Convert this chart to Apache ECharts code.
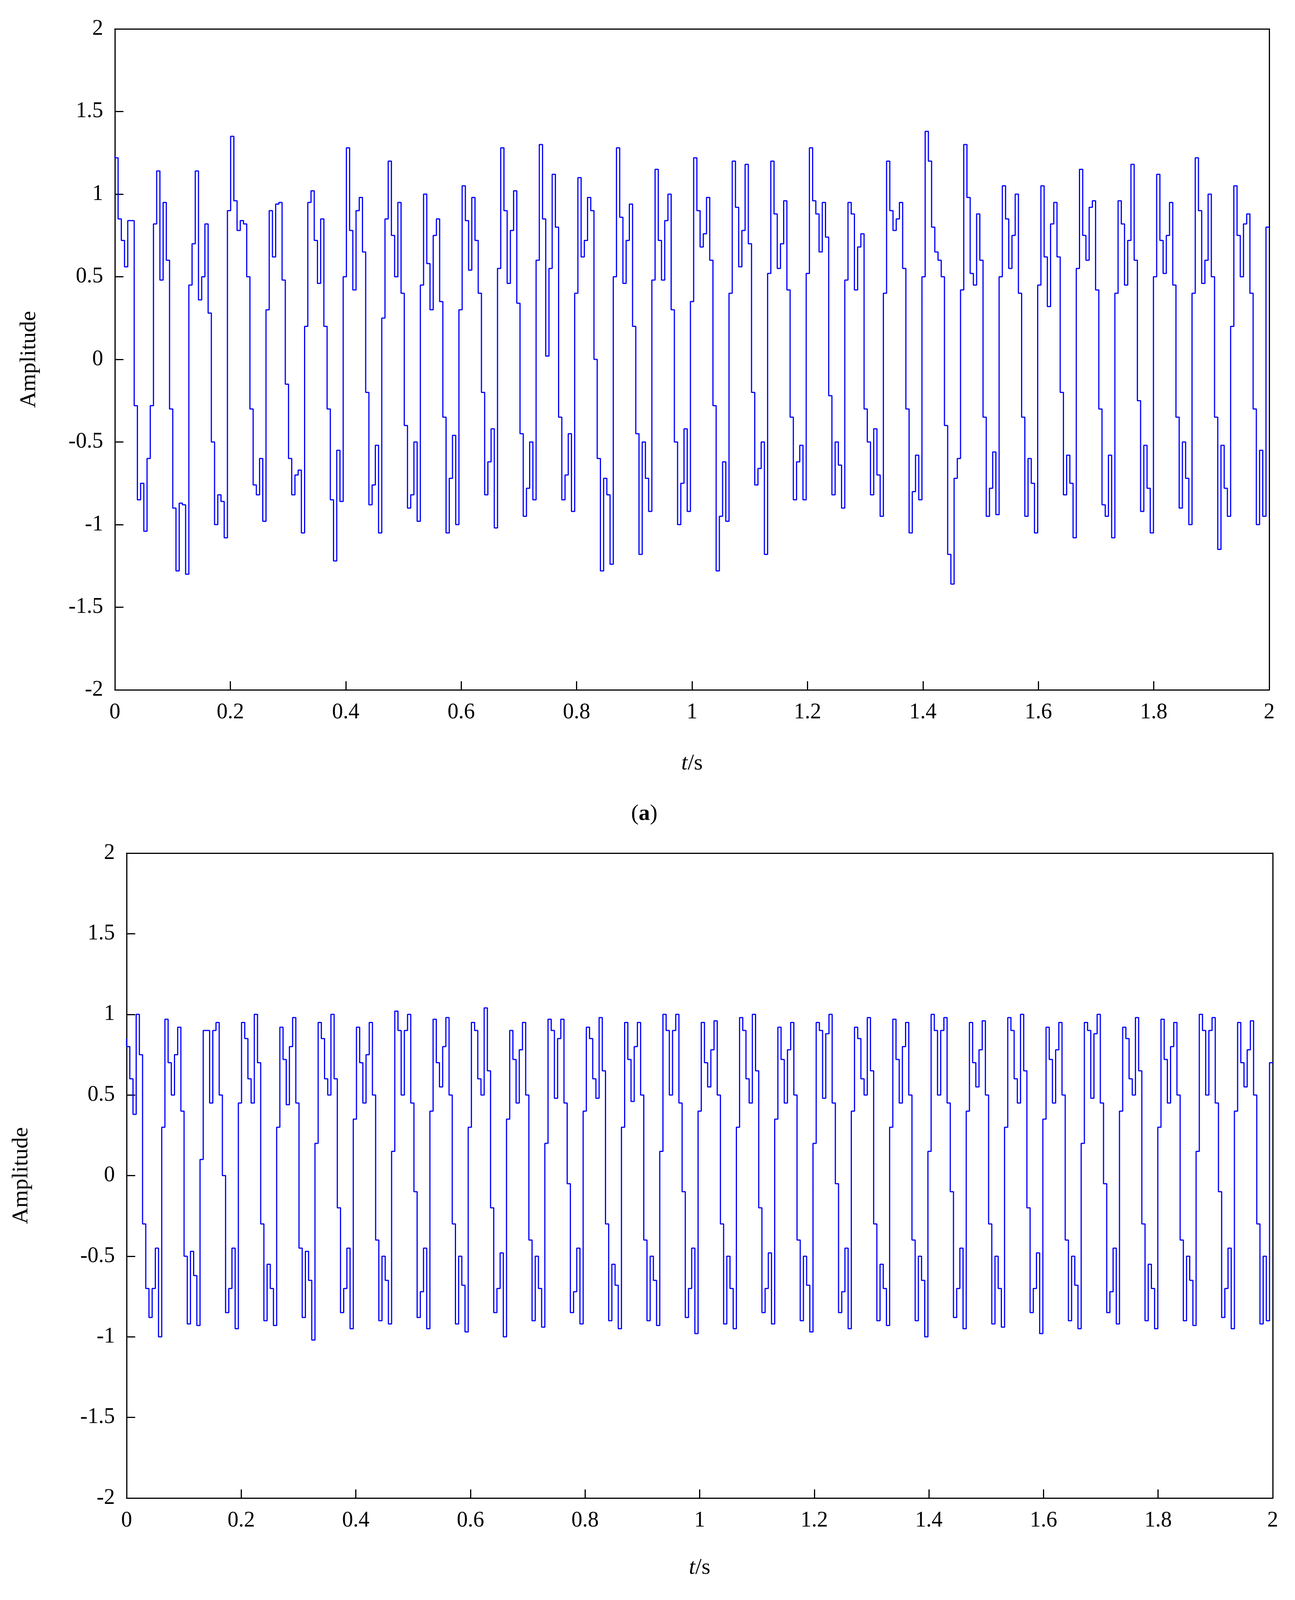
<!DOCTYPE html>
<html>
<head>
<meta charset="utf-8">
<script src="https://cdn.jsdelivr.net/npm/echarts@6/dist/echarts.min.js"></script>
<style>
  html, body { margin: 0; padding: 0; background: #fff; }
  #main { width: 3314px; height: 4312px; }
</style>
</head>
<body>
<div id="main"></div>
<script>
// amplitude samples, 12 per cycle, 360 samples over 2 s
var ampA = [
  1.23,1.22,0.85,0.72,0.56,0.84,0.84,-0.28,-0.85,-0.75,-1.04,-0.6,
  -0.28,0.82,1.14,0.48,0.95,0.6,-0.3,-0.9,-1.28,-0.87,-0.88,-1.3,
  0.45,0.7,1.14,0.36,0.5,0.82,0.28,-0.5,-1.0,-0.82,-0.86,-1.08,
  0.9,1.35,0.96,0.78,0.84,0.82,0.5,-0.3,-0.76,-0.82,-0.6,-0.98,
  0.3,0.9,0.62,0.94,0.95,0.48,-0.15,-0.6,-0.82,-0.7,-0.67,-1.05,
  0.2,0.95,1.02,0.72,0.46,0.85,0.2,-0.3,-0.85,-1.22,-0.55,-0.86,
  0.5,1.28,0.78,0.42,0.9,0.98,0.65,-0.2,-0.88,-0.76,-0.52,-1.05,
  0.25,0.85,1.2,0.75,0.5,0.95,0.4,-0.4,-0.9,-0.82,-0.5,-0.98,
  0.45,1.0,0.58,0.3,0.75,0.85,0.35,-0.35,-1.05,-0.72,-0.46,-1.0,
  0.3,1.05,0.84,0.54,0.98,0.72,0.4,-0.2,-0.82,-0.62,-0.42,-1.02,
  0.55,1.28,0.9,0.46,0.78,1.02,0.34,-0.45,-0.95,-0.78,-0.5,-0.85,
  0.6,1.3,0.85,0.02,0.55,1.12,0.8,-0.35,-0.85,-0.7,-0.45,-0.92,
  0.4,1.1,0.62,0.72,0.98,0.9,0.0,-0.6,-1.28,-0.72,-0.82,-1.24,
  0.5,1.28,0.86,0.46,0.72,0.94,0.2,-0.45,-1.18,-0.5,-0.72,-0.92,
  0.48,1.15,0.72,0.48,0.84,1.0,0.3,-0.5,-1.0,-0.75,-0.42,-0.92,
  0.35,1.22,0.9,0.68,0.76,0.98,0.6,-0.28,-1.28,-0.95,-0.62,-0.98,
  0.4,1.2,0.92,0.56,0.78,1.18,0.7,-0.2,-0.76,-0.66,-0.5,-1.18,
  0.52,1.2,0.88,0.55,0.7,0.96,0.42,-0.35,-0.85,-0.62,-0.52,-0.85,
  0.52,1.28,0.96,0.88,0.65,0.95,0.74,-0.22,-0.82,-0.5,-0.64,-0.9,
  0.48,0.95,0.88,0.42,0.68,0.76,-0.3,-0.5,-0.82,-0.42,-0.7,-0.95,
  0.4,1.2,0.9,0.78,0.85,0.95,0.55,-0.3,-1.05,-0.8,-0.58,-0.85,
  0.5,1.38,1.2,0.8,0.65,0.6,0.5,-0.4,-1.18,-1.36,-0.72,-0.6,
  0.42,1.3,0.98,0.52,0.45,0.88,0.6,-0.35,-0.95,-0.78,-0.56,-0.94,
  0.5,1.05,0.85,0.55,0.75,1.0,0.4,-0.35,-0.95,-0.6,-0.75,-1.05,
  0.45,1.05,0.62,0.32,0.82,0.95,0.62,-0.2,-0.82,-0.58,-0.75,-1.08,
  0.55,1.15,0.75,0.6,0.92,0.96,0.42,-0.3,-0.88,-0.95,-0.58,-1.08,
  0.4,0.96,0.82,0.45,0.72,1.18,0.6,-0.25,-0.92,-0.52,-0.78,-1.05,
  0.5,1.12,0.72,0.52,0.75,0.95,0.45,-0.35,-0.9,-0.5,-0.72,-1.0,
  0.4,1.22,0.9,0.46,0.6,1.0,0.5,-0.35,-1.15,-0.52,-0.78,-0.95,
  0.2,1.05,0.75,0.5,0.82,0.88,0.4,-0.3,-1.0,-0.55,-0.95,0.8
];
var ampB = [
  0.85,0.8,0.6,0.38,1.0,0.75,-0.3,-0.7,-0.88,-0.7,-0.45,-1.0,
  0.3,0.97,0.7,0.5,0.75,0.92,0.4,-0.5,-0.92,-0.47,-0.62,-0.93,
  0.1,0.9,0.9,0.45,0.9,0.95,0.5,0.0,-0.85,-0.7,-0.45,-0.95,
  0.45,0.95,0.85,0.6,0.45,1.0,0.7,-0.3,-0.9,-0.55,-0.7,-0.93,
  0.3,0.92,0.72,0.44,0.8,0.98,0.45,-0.45,-0.88,-0.47,-0.65,-1.02,
  0.2,0.95,0.85,0.6,0.5,1.0,0.6,-0.2,-0.85,-0.7,-0.45,-0.95,
  0.35,0.92,0.7,0.45,0.75,0.95,0.5,-0.4,-0.9,-0.5,-0.65,-0.92,
  0.15,1.02,0.9,0.5,0.9,1.0,0.45,-0.1,-0.88,-0.72,-0.45,-0.95,
  0.4,0.97,0.7,0.55,0.8,0.98,0.5,-0.3,-0.92,-0.5,-0.68,-0.97,
  0.3,0.95,0.9,0.6,0.5,1.04,0.65,-0.2,-0.85,-0.7,-0.48,-1.0,
  0.35,0.9,0.72,0.45,0.78,0.95,0.5,-0.4,-0.9,-0.5,-0.7,-0.94,
  0.2,0.97,0.9,0.48,0.85,0.97,0.45,-0.05,-0.85,-0.72,-0.45,-0.92,
  0.4,0.92,0.85,0.6,0.48,0.98,0.65,-0.3,-0.9,-0.55,-0.68,-0.95,
  0.3,0.95,0.72,0.46,0.8,0.95,0.5,-0.4,-0.9,-0.5,-0.65,-0.93,
  0.15,1.0,0.9,0.5,0.9,1.0,0.45,-0.1,-0.88,-0.7,-0.45,-0.98,
  0.4,0.95,0.7,0.55,0.78,0.96,0.5,-0.3,-0.92,-0.5,-0.7,-0.95,
  0.3,0.98,0.9,0.6,0.45,1.0,0.65,-0.2,-0.85,-0.7,-0.48,-0.92,
  0.35,0.92,0.72,0.45,0.78,0.95,0.5,-0.4,-0.9,-0.5,-0.68,-0.97,
  0.2,0.95,0.9,0.48,0.88,1.0,0.45,-0.05,-0.85,-0.72,-0.45,-0.95,
  0.4,0.92,0.85,0.6,0.5,0.98,0.65,-0.3,-0.9,-0.55,-0.7,-0.93,
  0.3,0.97,0.72,0.45,0.8,0.95,0.5,-0.4,-0.9,-0.5,-0.65,-1.0,
  0.15,1.0,0.9,0.5,0.9,0.98,0.45,-0.1,-0.88,-0.7,-0.45,-0.95,
  0.4,0.95,0.7,0.55,0.78,0.96,0.5,-0.3,-0.92,-0.5,-0.7,-0.94,
  0.3,0.98,0.9,0.6,0.45,1.0,0.65,-0.2,-0.85,-0.7,-0.48,-0.98,
  0.35,0.92,0.72,0.45,0.78,0.95,0.5,-0.4,-0.9,-0.5,-0.68,-0.95,
  0.2,0.95,0.9,0.48,0.88,1.0,0.45,-0.05,-0.85,-0.72,-0.45,-0.92,
  0.4,0.92,0.85,0.6,0.5,0.98,0.65,-0.3,-0.9,-0.55,-0.7,-0.95,
  0.3,0.97,0.72,0.45,0.8,0.95,0.5,-0.4,-0.9,-0.5,-0.65,-0.93,
  0.15,1.0,0.9,0.5,0.9,0.98,0.45,-0.1,-0.88,-0.7,-0.45,-0.95,
  0.4,0.95,0.7,0.55,0.78,0.96,0.5,-0.3,-0.92,-0.5,-0.9,0.7
];
var tEnd = 2;

function toPairs(arr) {
  var dt = tEnd / (arr.length - 1);
  return arr.map(function (v, i) { return [i * dt, v]; });
}

var myChart = echarts.init(document.getElementById('main'));
var font = 'Liberation Serif';
var grids = [
  { left: 294, width: 2954, top: 74, height: 1692 },
  { left: 324, width: 2933, top: 2184, height: 1651 }
];
var xAxes = [], yAxes = [], series = [];
grids.forEach(function (g, k) {
  xAxes.push({
    type: 'value', gridIndex: k, min: 0, max: 2, interval: 0.2,
    axisLine: { onZero: false, lineStyle: { color: '#000', width: 3 } },
    axisTick: { inside: true, length: 22, lineStyle: { color: '#000', width: 3 } },
    axisLabel: { color: '#000', fontFamily: font, fontSize: 56, margin: 30 },
    splitLine: { show: false },
    name: '{i|t}/s', nameLocation: 'middle', nameGap: k === 0 ? 160 : 150,
    nameTextStyle: { color: '#000', fontFamily: font, fontSize: 58,
      rich: { i: { fontStyle: 'italic', fontFamily: font, fontSize: 58, color: '#000' } } }
  });
  xAxes.push({
    type: 'value', gridIndex: k, position: 'top', min: 0, max: 2,
    axisLine: { onZero: false, lineStyle: { color: '#000', width: 3 } },
    axisTick: { show: false }, axisLabel: { show: false }, splitLine: { show: false }
  });
  yAxes.push({
    type: 'value', gridIndex: k, min: -2, max: 2, interval: 0.5,
    axisLine: { onZero: false, lineStyle: { color: '#000', width: 3 } },
    axisTick: { inside: true, length: 22, lineStyle: { color: '#000', width: 3 } },
    axisLabel: { color: '#000', fontFamily: font, fontSize: 56, margin: 30 },
    splitLine: { show: false },
    name: 'Amplitude', nameLocation: 'middle', nameGap: k === 0 ? 190 : 240,
    nameTextStyle: { color: '#000', fontFamily: font, fontSize: 58 }
  });
  yAxes.push({
    type: 'value', gridIndex: k, position: 'right', min: -2, max: 2,
    axisLine: { onZero: false, lineStyle: { color: '#000', width: 3 } },
    axisTick: { show: false }, axisLabel: { show: false }, splitLine: { show: false }
  });
  series.push({
    type: 'line', xAxisIndex: k * 2, yAxisIndex: k * 2,
    data: toPairs(k === 0 ? ampA : ampB),
    step: 'start',
    showSymbol: false, animation: false,
    lineStyle: { color: '#0000ff', width: 3 }
  });
});

var option = {
  backgroundColor: '#fff',
  grid: grids,
  xAxis: xAxes,
  yAxis: yAxes,
  series: series,
  graphic: [
    { type: 'text', left: 1615, top: 2055,
      style: { text: '({b|a})', fill: '#000', font: '58px "' + font + '"',
        rich: { b: { fontWeight: 'bold', fontFamily: font, fontSize: 58, fill: '#000' } } } },
    { type: 'text', left: 1590, top: 4195,
      style: { text: '({b|b})', fill: '#000', font: '58px "' + font + '"',
        rich: { b: { fontWeight: 'bold', fontFamily: font, fontSize: 58, fill: '#000' } } } }
  ]
};
option && myChart.setOption(option);
</script>
</body>
</html>
